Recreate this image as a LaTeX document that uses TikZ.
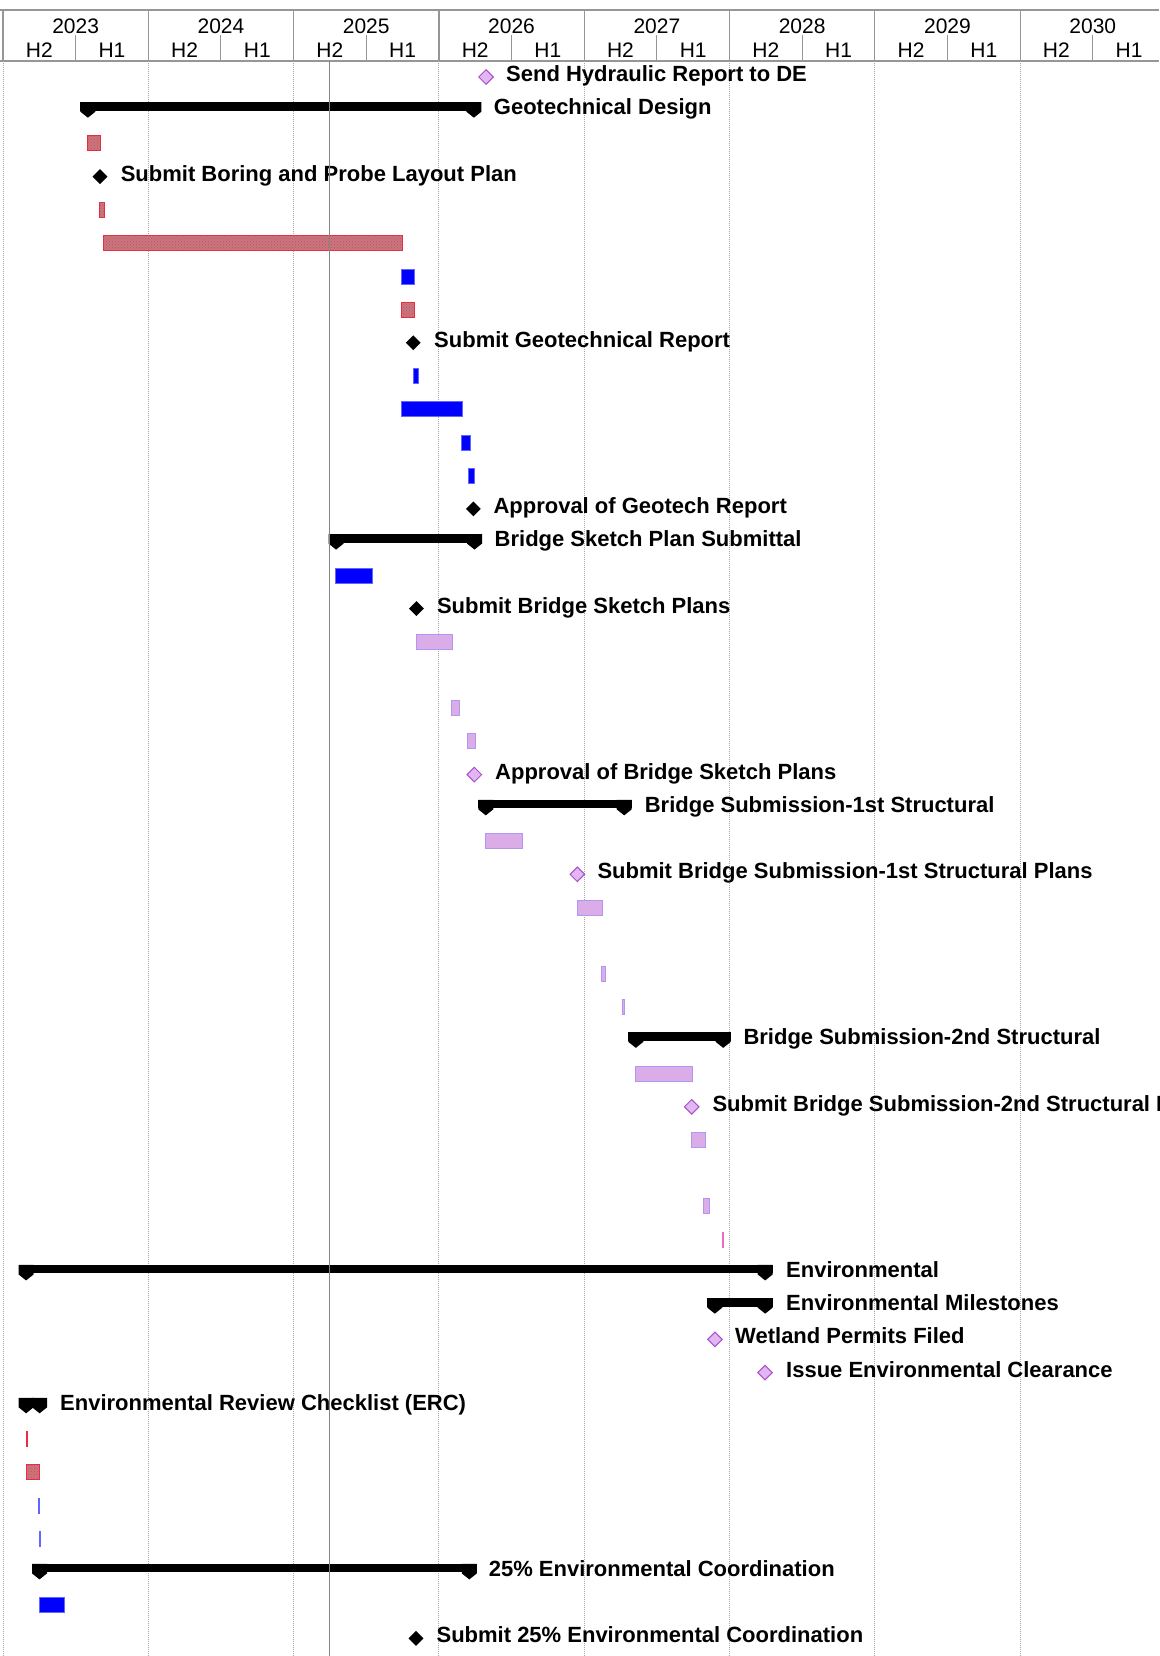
\documentclass[tikz,border=0pt]{standalone}
\usepackage{fontspec}
\setmainfont{Liberation Sans}
\usepackage{tikz}
\usetikzlibrary{shapes.geometric,patterns}
\definecolor{grille}{RGB}{165,165,165}
\definecolor{entete}{RGB}{150,150,150}
\definecolor{rouge}{RGB}{240,40,60}
\definecolor{rougefond}{RGB}{206,116,126}
\definecolor{bleu}{RGB}{0,0,255}
\definecolor{bleubord}{RGB}{100,100,255}
\definecolor{mauve}{RGB}{218,172,232}
\definecolor{mauvebord}{RGB}{178,150,240}
\definecolor{lilas}{RGB}{226,182,242}
\definecolor{lilasbord}{RGB}{170,80,200}
\definecolor{rose}{RGB}{232,110,190}
\newcommand{\rowy}[1]{77+(#1-1)*33.22}

\begin{document}
\begin{tikzpicture}[x=1pt,y=-1pt,
	redtask/.style={draw=rouge,line width=1pt,fill=rougefond,postaction={pattern=crosshatch dots,pattern color=rouge!45!gray}},
	bluetask/.style={draw=bleubord,line width=0.6pt,fill=bleu},
	mauvetask/.style={draw=mauvebord,line width=1pt,fill=mauve},
	blackms/.style={shape=diamond,fill=black,inner sep=0pt,minimum size=15pt},
	mauvems/.style={shape=diamond,draw=lilasbord,line width=1pt,fill=lilas,inner sep=0pt,minimum size=15pt},
	lbl/.style={font=\bfseries\fontsize{22}{26}\selectfont,anchor=base west,inner sep=0pt},
	hdr/.style={font=\fontsize{21}{25}\selectfont,anchor=base,inner sep=0pt}]
					\useasboundingbox (0,0) rectangle (1159,1656);
					\clip (0,0) rectangle (1159,1656);
					\fill[white] (0,0) rectangle (1159,1656);
					
					% en-tete : annees et semestres
					\draw[entete,line width=1.5pt] (0,10) -- (1159,10);
					\draw[entete,line width=2pt] (0,61) -- (1159,61);
					\foreach \i in {0,...,7}{
						\pgfmathsetmacro\xa{3+\i*145.3}
						\pgfmathtruncatemacro\an{2023+\i}
						\draw[entete,line width=1.2pt] (\xa,10) -- (\xa,61);
						\draw[entete,line width=1pt] ({\xa+72.65},35) -- ({\xa+72.65},61);
						\draw[grille,line width=1pt,dash pattern=on 1pt off 1pt] (\xa,61) -- (\xa,1656);
						\node[hdr] (an\an) at ({\xa+72.65},33.3) {\an};
						\node[hdr] (hd\an) at ({\xa+36.3},57.3) {H2};
						\node[hdr] (hf\an) at ({\xa+109},57.3) {H1};
					}
					
					% barres de synthese
					\foreach \r/\a/\b in {2/80.4/481.4,15/328.6/482,23/478.3/631.7,30/628.3/730.7,37/18.6/772.7,38/707.3/772.7,41/18.6/47.1,46/32/476.8}{
						\pgfmathsetmacro\yc{\rowy{\r}}
						\fill (\a,{\yc-8}) rectangle (\b,{\yc+0.5});
						\fill (\a,{\yc-8}) -- ++(15,0) -- ++(0,9.5) -- ++(-7.5,6) -- ++(-7.5,-6) -- cycle;
						\fill (\b,{\yc-8}) -- ++(-15,0) -- ++(0,9.5) -- ++(7.5,6) -- ++(7.5,-6) -- cycle;
					}
					
					% taches
					\foreach \r/\a/\b in {3/87.3/100.3,5/99/104.5,6/103.3/402.6,8/401.3/414.3,42/26.3/27.3,43/26.4/39.6}
						\draw[redtask] (\a,{\rowy{\r}-7.5}) rectangle (\b,{\rowy{\r}+7.5});
					\foreach \r/\a/\b in {7/401.3/414.3,10/413/418,11/401.3/462,12/461/470,13/468.7/474.3,16/335.4/372.1,44/38.6/39.6,45/39/39.8,47/39.6/64.3}
						\draw[bluetask] (\a,{\rowy{\r}-7.5}) rectangle (\b,{\rowy{\r}+7.5});
					\foreach \r/\a/\b in {18/416/452.9,20/451/459,21/467.9/475.4,24/485.7/522.7,26/577/602.3,28/601/605.7,29/622.3/624.7,31/635.7/692.7,33/691/705,35/703/709}
						\draw[mauvetask] (\a,{\rowy{\r}-7.5}) rectangle (\b,{\rowy{\r}+7.5});
					\draw[mauvetask,draw=rose] (722.3,{\rowy{36}-7.5}) rectangle (723.7,{\rowy{36}+7.5});
					
					% jalons
					\node[mauvems] (mHydraulic) at (486,{\rowy{1}}) {};
					\node[blackms] (mBoring) at (100,{\rowy{4}}) {};
					\node[blackms] (mGeoReport) at (413.3,{\rowy{9}}) {};
					\node[blackms] (mGeoApproval) at (473.3,{\rowy{14}}) {};
					\node[blackms] (mSketch) at (416.4,{\rowy{17}}) {};
					\node[mauvems] (mSketchApproval) at (474.3,{\rowy{22}}) {};
					\node[mauvems] (mFirst) at (577.3,{\rowy{25}}) {};
					\node[mauvems] (mSecond) at (691.7,{\rowy{32}}) {};
					\node[mauvems] (mWetland) at (715,{\rowy{39}}) {};
					\node[mauvems] (mClearance) at (765,{\rowy{40}}) {};
					\node[blackms] (mCoordination) at (416,{\rowy{48}}) {};
					
					% libelles
					\node[lbl] (tHydraulic) at (506,{\rowy{1}+4.5}) {Send Hydraulic Report to DE};
					\node[lbl] (tGeoDesign) at (493.7,{\rowy{2}+4.5}) {Geotechnical Design};
					\node[lbl] (tBoring) at (120.6,{\rowy{4}+4.5}) {Submit Boring and Probe Layout Plan};
					\node[lbl] (tGeoReport) at (434,{\rowy{9}+4.5}) {Submit Geotechnical Report};
					\node[lbl] (tGeoApproval) at (493.3,{\rowy{14}+4.5}) {Approval of Geotech Report};
					\node[lbl] (tSketchPlan) at (494.5,{\rowy{15}+4.5}) {Bridge Sketch Plan Submittal};
					\node[lbl] (tSketch) at (436.8,{\rowy{17}+4.5}) {Submit Bridge Sketch Plans};
					\node[lbl] (tSketchApproval) at (495,{\rowy{22}+4.5}) {Approval of Bridge Sketch Plans};
					\node[lbl] (tFirstSum) at (644.6,{\rowy{23}+4.5}) {Bridge Submission-1st Structural};
					\node[lbl] (tFirst) at (597.3,{\rowy{25}+4.5}) {Submit Bridge Submission-1st Structural Plans};
					\node[lbl] (tSecondSum) at (743.3,{\rowy{30}+4.5}) {Bridge Submission-2nd Structural};
					\node[lbl] (tSecond) at (712.3,{\rowy{32}+4.5}) {Submit Bridge Submission-2nd Structural Plans};
					\node[lbl] (tEnv) at (786,{\rowy{37}+4.5}) {Environmental};
					\node[lbl] (tEnvMs) at (786,{\rowy{38}+4.5}) {Environmental Milestones};
					\node[lbl] (tWetland) at (735,{\rowy{39}+4.5}) {Wetland Permits Filed};
					\node[lbl] (tClearance) at (786,{\rowy{40}+4.5}) {Issue Environmental Clearance};
					\node[lbl] (tErc) at (60,{\rowy{41}+4.5}) {Environmental Review Checklist (ERC)};
					\node[lbl] (tCoordSum) at (488.6,{\rowy{46}+4.5}) {25\% Environmental Coordination};
					\node[lbl] (tCoord) at (436.4,{\rowy{48}+4.5}) {Submit 25\% Environmental Coordination};
					
					% ligne d'etat
					\draw[grille!80!black,line width=1pt] (329.3,61) -- (329.3,1656);
					\draw[grille,line width=1pt,dash pattern=on 1pt off 1pt] (3,61) -- (3,1656);
\end{tikzpicture}
\end{document}
